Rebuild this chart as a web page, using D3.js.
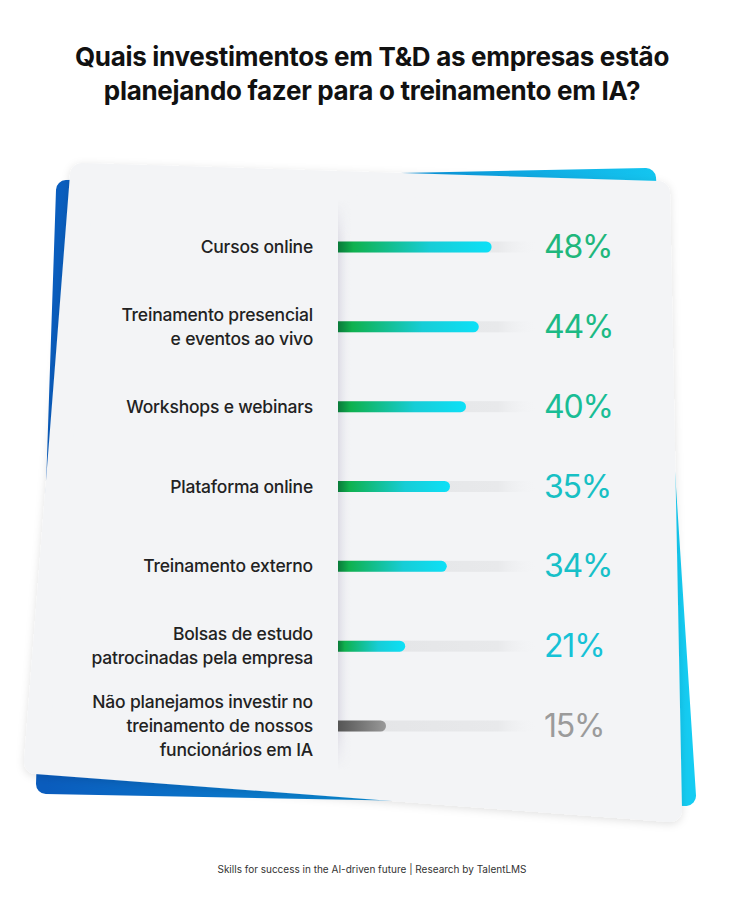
<!DOCTYPE html>
<html><head><meta charset="utf-8">
<script src="https://cdn.jsdelivr.net/npm/d3@7"></script>
<style>body{margin:0;background:#fff}svg{display:block}</style>
</head><body>
<script>
// data
const categories = [
  ["Cursos online"],
  ["Treinamento presencial", "e eventos ao vivo"],
  ["Workshops e webinars"],
  ["Plataforma online"],
  ["Treinamento externo"],
  ["Bolsas de estudo", "patrocinadas pela empresa"],
  ["Não planejamos investir no", "treinamento de nossos", "funcionários em IA"]
];
const values = [48, 44, 40, 35, 34, 21, 15];
const labelColors = ["#1fb77c", "#1cba84", "#19bd95", "#17c0c4", "#17c0c8", "#16c2d6", "#9b9b9b"];

const W = 744, H = 900;
const svg = d3.select("body").append("svg").attr("width", W).attr("height", H)
  .style("font-family", "Inter, 'Open Sans', sans-serif");
const defs = svg.append("defs");

const blue = defs.append("linearGradient").attr("id", "blue").attr("x1", 0).attr("x2", 1);
blue.append("stop").attr("offset", 0).attr("stop-color", "#0a5cbd");
blue.append("stop").attr("offset", 0.55).attr("stop-color", "#0a8fd8");
blue.append("stop").attr("offset", 1).attr("stop-color", "#15ccf2");

const bar = defs.append("linearGradient").attr("id", "bar").attr("x1", 0).attr("x2", 1);
bar.append("stop").attr("offset", 0).attr("stop-color", "#0a7a3a");
bar.append("stop").attr("offset", 0.1).attr("stop-color", "#0fb14e");
bar.append("stop").attr("offset", 0.6).attr("stop-color", "#17cdd6");
bar.append("stop").attr("offset", 1).attr("stop-color", "#0de0f7");

const grey = defs.append("linearGradient").attr("id", "grey").attr("x1", 0).attr("x2", 1);
grey.append("stop").attr("offset", 0).attr("stop-color", "#555");
grey.append("stop").attr("offset", 1).attr("stop-color", "#999");

const track = defs.append("linearGradient").attr("id", "track").attr("x1", 0).attr("x2", 1);
track.append("stop").attr("offset", 0).attr("stop-color", "#e3e4e6");
track.append("stop").attr("offset", 0.8).attr("stop-color", "#e8e9eb");
track.append("stop").attr("offset", 1).attr("stop-color", "#f3f4f6").attr("stop-opacity", 0);

const shade = defs.append("linearGradient").attr("id", "shade").attr("x1", 0).attr("x2", 1);
shade.append("stop").attr("offset", 0).attr("stop-color", "#dcdbe4");
shade.append("stop").attr("offset", 1).attr("stop-color", "#f3f4f6").attr("stop-opacity", 0);
const fadeV = defs.append("linearGradient").attr("id", "fadeV").attr("x1", 0).attr("x2", 0).attr("y2", 1);
fadeV.append("stop").attr("offset", 0).attr("stop-color", "#fff").attr("stop-opacity", 0);
fadeV.append("stop").attr("offset", 0.08).attr("stop-color", "#fff").attr("stop-opacity", 1);
fadeV.append("stop").attr("offset", 0.92).attr("stop-color", "#fff").attr("stop-opacity", 1);
fadeV.append("stop").attr("offset", 1).attr("stop-color", "#fff").attr("stop-opacity", 0);
defs.append("mask").attr("id", "fm").append("rect")
  .attr("x", 330).attr("y", 200).attr("width", 40).attr("height", 570).attr("fill", "url(#fadeV)");

const flt = defs.append("filter").attr("id", "sh").attr("x", -0.1).attr("y", -0.1).attr("width", 1.2).attr("height", 1.2);
flt.append("feDropShadow").attr("dx", 0).attr("dy", 2).attr("stdDeviation", 4).attr("flood-opacity", 0.12);

// title
svg.append("g").selectAll("text")
  .data(["Quais investimentos em T&D as empresas estão", "planejando fazer para o treinamento em IA?"])
  .join("text")
  .attr("x", W / 2).attr("y", (d, i) => 66 + i * 34)
  .attr("text-anchor", "middle").attr("font-size", 26).attr("font-weight", 700)
  .attr("letter-spacing", -0.3).attr("fill", "#111").text(d => d);

// backing blue shape and card
const line = d3.line().curve(d3.curveLinearClosed);
svg.append("path").attr("fill", "url(#blue)").attr("stroke", "url(#blue)")
  .attr("stroke-width", 20).attr("stroke-linejoin", "round")
  .attr("d", line([[66, 190], [646, 178], [686, 796], [46, 784]]));
svg.append("path").attr("fill", "#f3f4f6").attr("stroke", "#f3f4f6")
  .attr("stroke-width", 24).attr("stroke-linejoin", "round").attr("filter", "url(#sh)")
  .attr("d", line([[82, 175], [658, 193], [670, 810], [36, 762]]));

// divider shade
svg.append("rect").attr("x", 338).attr("y", 200).attr("width", 14).attr("height", 570)
  .attr("fill", "url(#shade)").attr("mask", "url(#fm)");

const x = d3.scaleLinear().domain([0, 50]).range([338, 498]);
const y = d3.scalePoint().domain(d3.range(values.length)).range([247, 726]);
const bh = 11;

const rows = svg.append("g").selectAll("g").data(values).join("g")
  .attr("transform", (d, i) => `translate(0,${y(i)})`);

rows.append("rect").attr("x", x(0)).attr("y", -bh / 2).attr("width", 200)
  .attr("height", bh).attr("fill", "url(#track)");
rows.append("path").attr("fill", (d, i) => i === 6 ? "url(#grey)" : "url(#bar)")
  .attr("d", d => {
    const x1 = x(d), r = bh / 2;
    return `M${x(0)},${-r}H${x1 - r}A${r},${r} 0 0 1 ${x1 - r},${r}H${x(0)}Z`;
  });
rows.append("text").attr("x", 544).attr("y", 11).attr("font-size", 32)
  .attr("letter-spacing", -1.2)
  .attr("fill", (d, i) => labelColors[i]).attr("font-weight", 400).text(d => d + "%");

rows.append("text").attr("text-anchor", "end").attr("x", 313).attr("font-size", 17.5)
  .attr("fill", "#222").attr("font-weight", 500).attr("letter-spacing", -0.2)
  .each(function (d, i) {
    const lines = categories[i];
    d3.select(this).selectAll("tspan").data(lines).join("tspan")
      .attr("x", 313)
      .attr("y", (t, k) => (k - (lines.length - 1) / 2) * 24 + 6)
      .text(t => t);
  });

// footer
svg.append("text").attr("x", W / 2).attr("y", 873).attr("text-anchor", "middle")
  .attr("font-size", 10).attr("fill", "#333")
  .text("Skills for success in the AI-driven future  |  Research by TalentLMS");
</script>
</body></html>
